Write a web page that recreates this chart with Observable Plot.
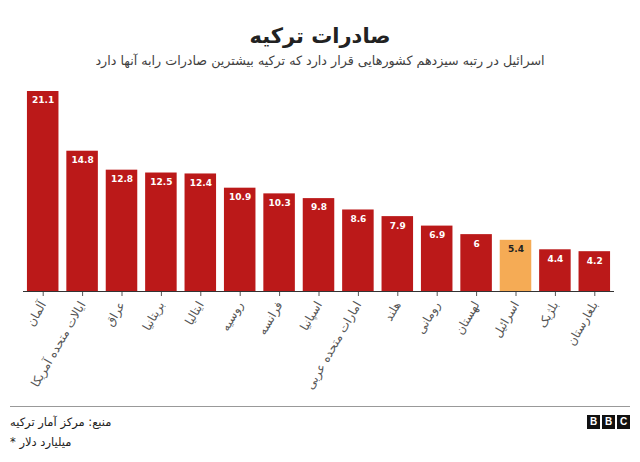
<!DOCTYPE html>
<html><head><meta charset="utf-8">
<script src="https://cdn.jsdelivr.net/npm/d3@7"></script>
<script src="https://cdn.jsdelivr.net/npm/@observablehq/plot@0.6"></script>
<style>
body{margin:0;background:#fff;font-family:"DejaVu Sans","Noto Sans",sans-serif;width:640px;height:462px;overflow:hidden}
#title{text-align:center;font-size:21px;font-weight:bold;color:#222;margin-top:22px;height:28px;line-height:28px}
#sub{text-align:center;font-size:12.7px;color:#404040;height:22px;line-height:22px;margin-top:0px}
#chart{height:320px;margin-top:8px}
#foot{position:relative;border-top:1px solid #999;margin:6px 10px 0 10px;height:50px}
#src{position:absolute;left:0;top:8px;font-size:11.5px;color:#222;direction:rtl}
#note{position:absolute;left:0;top:28px;font-size:11.5px;color:#222;direction:rtl}
#bbc{position:absolute;right:0;top:8px;display:flex;gap:2px}
#bbc span{display:inline-block;width:13px;height:14px;background:#111;color:#fff;font:bold 10px/14px Arial,"Liberation Sans",sans-serif;text-align:center}
</style></head>
<body>
<div id="title">صادرات ترکیه</div>
<div id="sub">اسرائیل در رتبه سیزدهم کشورهایی قرار دارد که ترکیه بیشترین صادرات رابه آنها دارد</div>
<div id="chart"></div>
<div id="foot">
<div id="src">منبع: مرکز آمار ترکیه</div>
<div id="note">میلیارد دلار *</div>
<div id="bbc"><span>B</span><span>B</span><span>C</span></div>
</div>
<script>
const countries = ["آلمان","ایالات متحده آمریکا","عراق","بریتانیا","ایتالیا","روسیه","فرانسه","اسپانیا","امارات متحده عربی","هلند","رومانی","لهستان","اسرائیل","بلژیک","بلغارستان"];
const exportsBn = [21.1,14.8,12.8,12.5,12.4,10.9,10.3,9.8,8.6,7.9,6.9,6,5.4,4.4,4.2];
const highlight = "اسرائیل";
const data = countries.map((c,i)=>({country:c, value:exportsBn[i], hi: c===highlight}));
const chart = Plot.plot({
  width:640, height:320,
  marginTop:11, marginBottom:109, marginLeft:23, marginRight:26,
  style:{fontFamily:"DejaVu Sans, Noto Sans, sans-serif", fontSize:"12px", color:"#555"},
  x:{domain:countries, label:null, paddingInner:0.2, paddingOuter:0.1, round:false, tickRotate:-60, tickSize:5},
  y:{domain:[0,21.1], axis:null},
  marks:[
    Plot.barY(data,{x:"country", y:"value", fill:d=>d.hi?"#f5ab55":"#bb1919"}),
    Plot.text(data,{x:"country", y:"value", text:d=>String(d.value), dy:9, fill:d=>d.hi?"#222":"#fff", fontWeight:"bold", fontSize:9}),
    Plot.ruleY([0],{stroke:"#333", strokeWidth:1})
  ]
});
document.getElementById("chart").appendChild(chart);
</script>
</body></html>
